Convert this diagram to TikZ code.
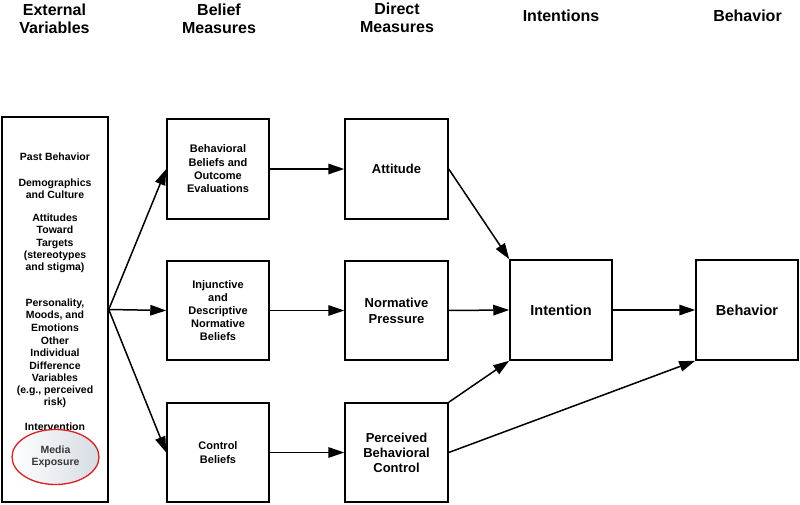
\documentclass[tikz,border=0pt]{standalone}
\usepackage{fontspec}
\setmainfont{Liberation Sans}
\usetikzlibrary{arrows.meta,shapes.geometric}
\tikzset{
  boxnode/.style={draw=black, line width=1.5pt, fill=white, align=center, inner sep=2pt},
  hdr/.style={font=\bfseries\fontsize{16}{18}\selectfont, align=center},
  ext/.style={font=\bfseries\fontsize{10.5}{12.3}\selectfont, align=center},
  arr/.style={-{Triangle[length=16pt,width=10.5pt]}, line width=1.5pt},
}
\begin{document}
\begin{tikzpicture}[x=1pt,y=-1pt]
\useasboundingbox (0,0) rectangle (800,505);
% headers
\node[hdr] (h1) at (54.5,18.5) {External\\Variables};
\node[hdr] (h2) at (219,18.5) {Belief\\Measures};
\node[hdr] (h3) at (397,18) {Direct\\Measures};
\node[hdr] (h4) at (561,16) {Intentions};
\node[hdr] (h5) at (747.5,16) {Behavior};
% external box
\node[boxnode, minimum width=106pt, minimum height=385pt] (ext) at (55,309.5) {};
\node[ext] (e1) at (55,157) {Past Behavior};
\node[ext] (e2) at (55,189) {Demographics\\and Culture};
\node[ext] (e3) at (55,243.5) {Attitudes\\Toward\\Targets\\(stereotypes\\and stigma)};
\node[ext] (e4) at (55,315) {Personality,\\Moods, and\\Emotions};
\node[ext] (e5) at (55,372.5) {Other\\Individual\\Difference\\Variables\\(e.g., perceived\\risk)};
\node[ext] (e6) at (55,427) {Intervention};
\node[ellipse, draw={rgb,255:red,225;green,30;blue,30}, line width=1.3pt,
      left color=white, right color={rgb,255:red,214;green,220;blue,226},
      minimum width=87pt, minimum height=55pt, inner sep=0pt,
      text={rgb,255:red,55;green,55;blue,55}, font=\bfseries\fontsize{10.5}{12.3}\selectfont, align=center]
      (media) at (55.5,457) {Media\\Exposure};
% belief measures
\node[boxnode, minimum width=102pt, minimum height=100pt, font=\bfseries\fontsize{11}{13.3}\selectfont] (b1) at (218,169) {Behavioral\\Beliefs and\\Outcome\\Evaluations};
\node[boxnode, minimum width=102pt, minimum height=99pt, font=\bfseries\fontsize{11}{13.2}\selectfont] (b2) at (218,310.5) {Injunctive\\and\\Descriptive\\Normative\\Beliefs};
\node[boxnode, minimum width=102pt, minimum height=99pt, font=\bfseries\fontsize{11}{14}\selectfont] (b3) at (218,452.5) {Control\\Beliefs};
% direct measures
\node[boxnode, minimum width=103pt, minimum height=100pt, font=\bfseries\fontsize{13}{15}\selectfont] (d1) at (396.5,169) {Attitude};
\node[boxnode, minimum width=103pt, minimum height=99pt, font=\bfseries\fontsize{13}{16}\selectfont] (d2) at (396.5,310.5) {Normative\\Pressure};
\node[boxnode, minimum width=103pt, minimum height=99pt, font=\bfseries\fontsize{13}{15}\selectfont] (d3) at (396.5,452.5) {Perceived\\Behavioral\\Control};
% intention and behavior
\node[boxnode, minimum width=102pt, minimum height=100pt, font=\bfseries\fontsize{14.5}{17}\selectfont] (int) at (561,310) {Intention};
\node[boxnode, minimum width=102pt, minimum height=100pt, font=\bfseries\fontsize{14.5}{17}\selectfont] (beh) at (747,310) {Behavior};
% connectors
\draw[arr] (ext.east) -- (b1.west);
\draw[arr] (ext.east) -- (b2.west);
\draw[arr] (ext.east) -- (b3.west);
\draw[arr] (b1.east) -- (d1.west);
\draw[arr] (b2.east) -- (d2.west);
\draw[arr] (b3.east) -- (d3.west);
\draw[arr] (d1.east) -- (int.north west);
\draw[arr] (d2.east) -- (int.west);
\draw[arr] (d3.north east) -- (int.south west);
\draw[arr] (d3.east) -- (beh.south west);
\draw[arr] (int.east) -- (beh.west);
\end{tikzpicture}
\end{document}
